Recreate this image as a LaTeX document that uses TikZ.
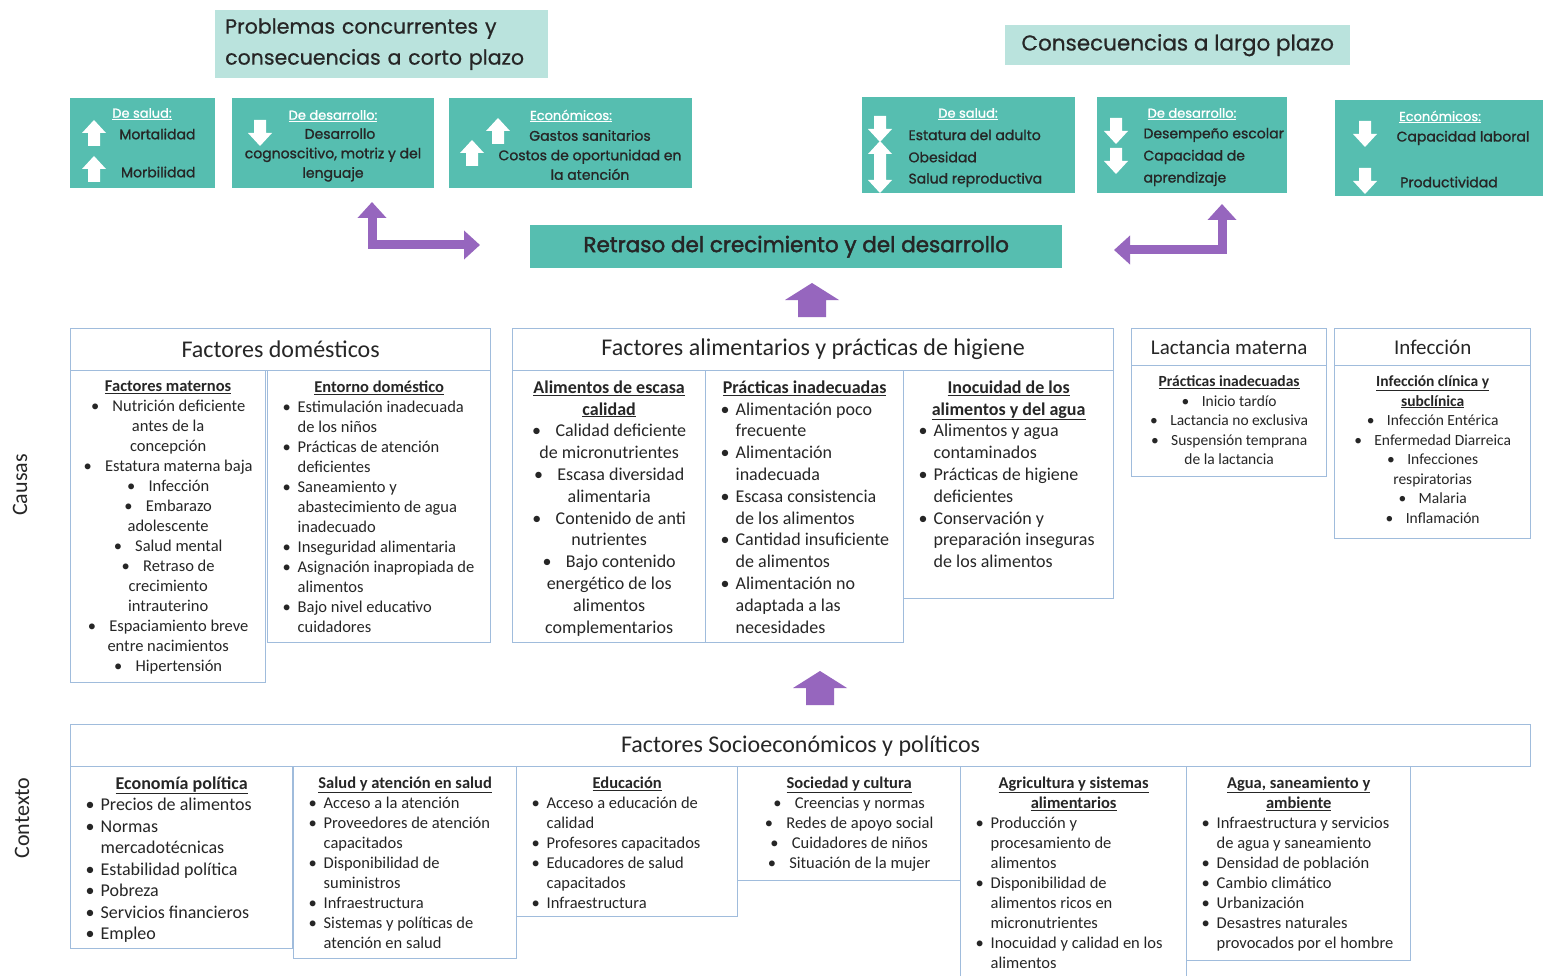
\documentclass[tikz,border=0pt]{standalone}
\usepackage{fontspec}
\setmainfont{Carlito}
\newfontfamily\titulofont[FakeBold=0.6]{Poppins}
\newfontfamily\verdefont[FakeBold=1.2]{Poppins}
\newfontfamily\retrasofont[FakeBold=2]{Poppins}
\usetikzlibrary{arrows.meta,positioning}

\definecolor{verdeazul}{RGB}{86,190,176}
\definecolor{verdeclaro}{RGB}{186,227,221}
\definecolor{bordeazul}{RGB}{160,188,220}
\definecolor{morado}{RGB}{150,102,190}
\definecolor{textoosc}{RGB}{38,38,38}

% contenido de las cajas: ancho y alto en pt
\newcommand{\caja}[3]{\parbox[c][\dimexpr#2pt-8pt\relax][t]{\dimexpr#1pt-12pt\relax}{\vspace*{6pt}#3}}
\newcommand{\bl}[1]{\par\hangindent=24pt\hangafter=1\noindent\makebox[24pt][l]{\hspace{9pt}\textbullet}{\let\\\newline#1}}
\newcommand{\bc}{\textbullet\hspace{0.8em}}
\newcommand{\tit}[1]{\textbf{\underline{#1}}}

\tikzset{
	cajaverde/.style={fill=verdeazul, draw=none, anchor=north west, inner sep=0pt},
	cajaclara/.style={fill=verdeclaro, anchor=north west, inner sep=0pt, text=textoosc, font=\titulofont\fontsize{21.5}{31}\selectfont},
	encabezado/.style={draw=bordeazul, line width=1.3pt, fill=white, anchor=north west, inner sep=0pt, font=\fontsize{24}{26}\selectfont, text=textoosc},
	subcaja/.style={draw=bordeazul, line width=1.3pt, fill=white, anchor=north west, inner xsep=6pt, inner ysep=4pt, font=\fontsize{16.5}{20}\selectfont, text=textoosc},
	textoverde/.style={font=\verdefont\fontsize{14}{19.5}\selectfont, text=textoosc},
	tituloverde/.style={font=\verdefont\fontsize{13}{15}\selectfont, text=white},
	flechamorada/.style={draw=morado, line width=9pt, {Triangle[width=28pt,length=16pt]}-{Triangle[width=28pt,length=16pt]}},
	flechaarriba/.pic={\fill[white] (-6,13) -- (6,13) -- (6,0) -- (12,0) -- (0,-13) -- (-12,0) -- (-6,0) -- cycle;},
	flechaabajo/.pic={\fill[white] (-6,-13) -- (6,-13) -- (6,0) -- (12,0) -- (0,13) -- (-12,0) -- (-6,0) -- cycle;},
	bloquemorado/.pic={\fill[morado] (-14,17) -- (14,17) -- (14,0) -- (27,0) -- (0,-17) -- (-27,0) -- (-14,0) -- cycle;}
}

\begin{document}
\begin{tikzpicture}[x=1pt,y=-1pt]
	\fill[white] (0,0) rectangle (1552,976);
	\useasboundingbox (0,0) rectangle (1552,976);

	% encabezados superiores
	\node[cajaclara, text width=313pt, inner xsep=10pt, minimum height=68pt, align=left, font=\titulofont\fontsize{20.5}{31}\selectfont] (corto) at (215,10) {Problemas concurrentes y\\consecuencias a corto plazo};
	\node[cajaclara, minimum width=345pt, minimum height=40pt] (largo) at (1005,25) {Consecuencias a largo plazo};

	% corto plazo
	\node[cajaverde, minimum width=145pt, minimum height=90pt] (saludA) at (70,98) {};
	\node[tituloverde] (tsaludA) at (142,114) {\underline{De salud:}};
	\pic at (94,133) {flechaarriba};
	\pic at (94,169) {flechaarriba};
	\node[textoverde, anchor=east] (mort) at (199,134) {Mortalidad};
	\node[textoverde, anchor=east] (morb) at (199,172) {Morbilidad};

	\node[cajaverde, minimum width=202pt, minimum height=90pt] (desaA) at (232,98) {};
	\node[tituloverde] (tdesaA) at (333,116) {\underline{De desarrollo:}};
	\pic at (260,133) {flechaabajo};
	\node[textoverde, align=center] (cogn) at (333,155) {\hspace*{1em}Desarrollo\\cognoscitivo, motriz y del\\lenguaje};

	\node[cajaverde, minimum width=243pt, minimum height=90pt] (econA) at (449,98) {};
	\node[tituloverde] (teconA) at (571,116) {\underline{Económicos:}};
	\pic at (498,131) {flechaarriba};
	\pic at (472,153) {flechaarriba};
	\node[textoverde, align=center] (gastos) at (590,155) {Gastos sanitarios\\Costos de oportunidad en\\la atención};

	% largo plazo
	\node[cajaverde, minimum width=213pt, minimum height=96pt] (saludB) at (862,97) {};
	\node[tituloverde] (tsaludB) at (968,114) {\underline{De salud:}};
	\pic at (880,129) {flechaabajo};
	\pic at (880,154) {flechaarriba};
	\pic at (880,180) {flechaabajo};
	\node[textoverde, anchor=west] (estat) at (905,135) {Estatura del adulto};
	\node[textoverde, anchor=west] (obes) at (905,157) {Obesidad};
	\node[textoverde, anchor=west] (repro) at (905,180) {Salud reproductiva};

	\node[cajaverde, minimum width=190pt, minimum height=96pt] (desaB) at (1097,97) {};
	\node[tituloverde] (tdesaB) at (1192,114) {\underline{De desarrollo:}};
	\pic at (1116,131) {flechaabajo};
	\pic at (1116,161) {flechaabajo};
	\node[textoverde, anchor=west] (desem) at (1140,135) {Desempeño escolar};
	\node[textoverde, anchor=west] (capac) at (1140,157) {Capacidad de};
	\node[textoverde, anchor=west] (apren) at (1140,179) {aprendizaje};

	\node[cajaverde, minimum width=208pt, minimum height=96pt] (econB) at (1335,100) {};
	\node[tituloverde] (teconB) at (1440,117) {\underline{Económicos:}};
	\pic at (1365,134) {flechaabajo};
	\pic at (1365,181) {flechaabajo};
	\node[textoverde] (labor) at (1463,138) {Capacidad laboral};
	\node[textoverde] (produ) at (1449,182) {Productividad};

	% retraso y flechas
	\node[cajaverde, minimum width=532pt, minimum height=43pt, text=textoosc, font=\retrasofont\fontsize{21.5}{24}\selectfont] (retraso) at (530,225) {Retraso del crecimiento y del desarrollo};
	\coordinate (izqArriba) at (372,202);
	\coordinate (izqFin) at (480,245);
	\coordinate (derArriba) at (1222,204);
	\coordinate (derFin) at (1114,250);
	\draw[flechamorada] (izqArriba) |- (izqFin);
	\draw[flechamorada] (derArriba) |- (derFin);
	\pic at (812,300) {bloquemorado};
	\pic at (820,688) {bloquemorado};

	% causas
	\node[rotate=90, font=\fontsize{22}{24}\selectfont, text=textoosc] (causas) at (20,485) {Causas};
	\node[rotate=90, font=\fontsize{22}{24}\selectfont, text=textoosc] (contexto) at (22,818) {Contexto};

	\node[encabezado, minimum width=420pt, minimum height=42pt] (domest) at (70,328) {Factores domésticos};
	\node[subcaja] (maternos) at (70,370) {\caja{195}{312}{\centering
		\tit{Factores maternos}\\
		\bc Nutrición deficiente\\ antes de la\\ concepción\\
		\bc Estatura materna baja\\
		\bc Infección\\
		\bc Embarazo\\ adolescente\\
		\bc Salud mental\\
		\bc Retraso de\\ crecimiento\\ intrauterino\\
		\bc Espaciamiento breve\\ entre nacimientos\\
		\bc Hipertensión}};
	\node[subcaja] (entorno) at (267,370) {\caja{223}{272}{\raggedright
		{\centering\tit{Entorno doméstico}\par}
		\bl{Estimulación inadecuada\\de los niños}
		\bl{Prácticas de atención\\deficientes}
		\bl{Saneamiento y\\abastecimiento de agua\\inadecuado}
		\bl{Inseguridad alimentaria}
		\bl{Asignación inapropiada de\\alimentos}
		\bl{Bajo nivel educativo\\cuidadores}}};

	\node[encabezado, minimum width=601pt, minimum height=42pt] (aliment) at (512,328) {Factores alimentarios y prácticas de higiene};
	\node[subcaja, font=\fontsize{18}{21.8}\selectfont] (escasa) at (512,370) {\caja{193}{272}{\centering
		\tit{Alimentos de escasa}\\ \tit{calidad}\\
		\bc Calidad deficiente\\ de micronutrientes\\
		\bc Escasa diversidad\\ alimentaria\\
		\bc Contenido de anti\\ nutrientes\\
		\bc Bajo contenido\\ energético de los\\ alimentos\\ complementarios}};
	\node[subcaja, font=\fontsize{18}{21.8}\selectfont] (practicas) at (705,370) {\caja{198}{272}{\raggedright
		{\centering\tit{Prácticas inadecuadas}\par}
		\bl{Alimentación poco\\frecuente}
		\bl{Alimentación\\inadecuada}
		\bl{Escasa consistencia\\de los alimentos}
		\bl{Cantidad insuficiente\\de alimentos}
		\bl{Alimentación no\\adaptada a las\\necesidades}}};
	\node[subcaja, font=\fontsize{18}{21.8}\selectfont] (inocuidad) at (903,370) {\caja{210}{228}{\raggedright
		{\centering\tit{Inocuidad de los}\\ \tit{alimentos y del agua}\par}
		\bl{Alimentos y agua\\contaminados}
		\bl{Prácticas de higiene\\deficientes}
		\bl{Conservación y\\preparación inseguras\\de los alimentos}}};

	\node[encabezado, minimum width=195pt, minimum height=37pt, font=\fontsize{21}{24}\selectfont] (lactancia) at (1131,328) {Lactancia materna};
	\node[subcaja, font=\fontsize{15.5}{19.5}\selectfont] (lactsub) at (1131,365) {\caja{195}{111}{\centering
		\tit{Prácticas inadecuadas}\\
		\bc Inicio tardío\\
		\bc Lactancia no exclusiva\\
		\bc Suspensión temprana\\ de la lactancia}};
	\node[encabezado, minimum width=196pt, minimum height=37pt, font=\fontsize{21}{24}\selectfont] (infeccion) at (1334,328) {Infección};
	\node[subcaja, font=\fontsize{15.5}{19.5}\selectfont] (infsub) at (1334,365) {\caja{196}{173}{\centering
		\tit{Infección clínica y}\\ \tit{subclínica}\\
		\bc Infección Entérica\\
		\bc Enfermedad Diarreica\\
		\bc Infecciones\\ respiratorias\\
		\bc Malaria\\
		\bc Inflamación}};

	% contexto
	\node[encabezado, minimum width=1460pt, minimum height=42pt] (socio) at (70,724) {Factores Socioeconómicos y políticos};
	\node[subcaja, font=\fontsize{18}{21.5}\selectfont] (economia) at (70,766) {\caja{222}{182}{\raggedright
		{\centering\tit{Economía política}\par}
		\bl{Precios de alimentos}
		\bl{Normas\\mercadotécnicas}
		\bl{Estabilidad política}
		\bl{Pobreza}
		\bl{Servicios financieros}
		\bl{Empleo}}};
	\node[subcaja] (saludC) at (293,766) {\caja{223}{192}{\raggedright
		{\centering\tit{Salud y atención en salud}\par}
		\bl{Acceso a la atención}
		\bl{Proveedores de atención\\capacitados}
		\bl{Disponibilidad de\\suministros}
		\bl{Infraestructura}
		\bl{Sistemas y políticas de\\atención en salud}}};
	\node[subcaja] (educacion) at (516,766) {\caja{221}{150}{\raggedright
		{\centering\tit{Educación}\par}
		\bl{Acceso a educación de\\calidad}
		\bl{Profesores capacitados}
		\bl{Educadores de salud\\capacitados}
		\bl{Infraestructura}}};
	\node[subcaja] (sociedad) at (737,766) {\caja{223}{114}{\centering
		\tit{Sociedad y cultura}\\
		\bc Creencias y normas\\
		\bc Redes de apoyo social\\
		\bc Cuidadores de niños\\
		\bc Situación de la mujer}};
	\node[subcaja] (agricultura) at (960,766) {\caja{226}{222}{\raggedright
		{\centering\tit{Agricultura y sistemas}\\ \tit{alimentarios}\par}
		\bl{Producción y\\procesamiento de\\alimentos}
		\bl{Disponibilidad de\\alimentos ricos en\\micronutrientes}
		\bl{Inocuidad y calidad en los\\alimentos}}};
	\node[subcaja] (agua) at (1186,766) {\caja{224}{194}{\raggedright
		{\centering\tit{Agua, saneamiento y}\\ \tit{ambiente}\par}
		\bl{Infraestructura y servicios\\de agua y saneamiento}
		\bl{Densidad de población}
		\bl{Cambio climático}
		\bl{Urbanización}
		\bl{Desastres naturales\\provocados por el hombre}}};
\end{tikzpicture}
\end{document}
